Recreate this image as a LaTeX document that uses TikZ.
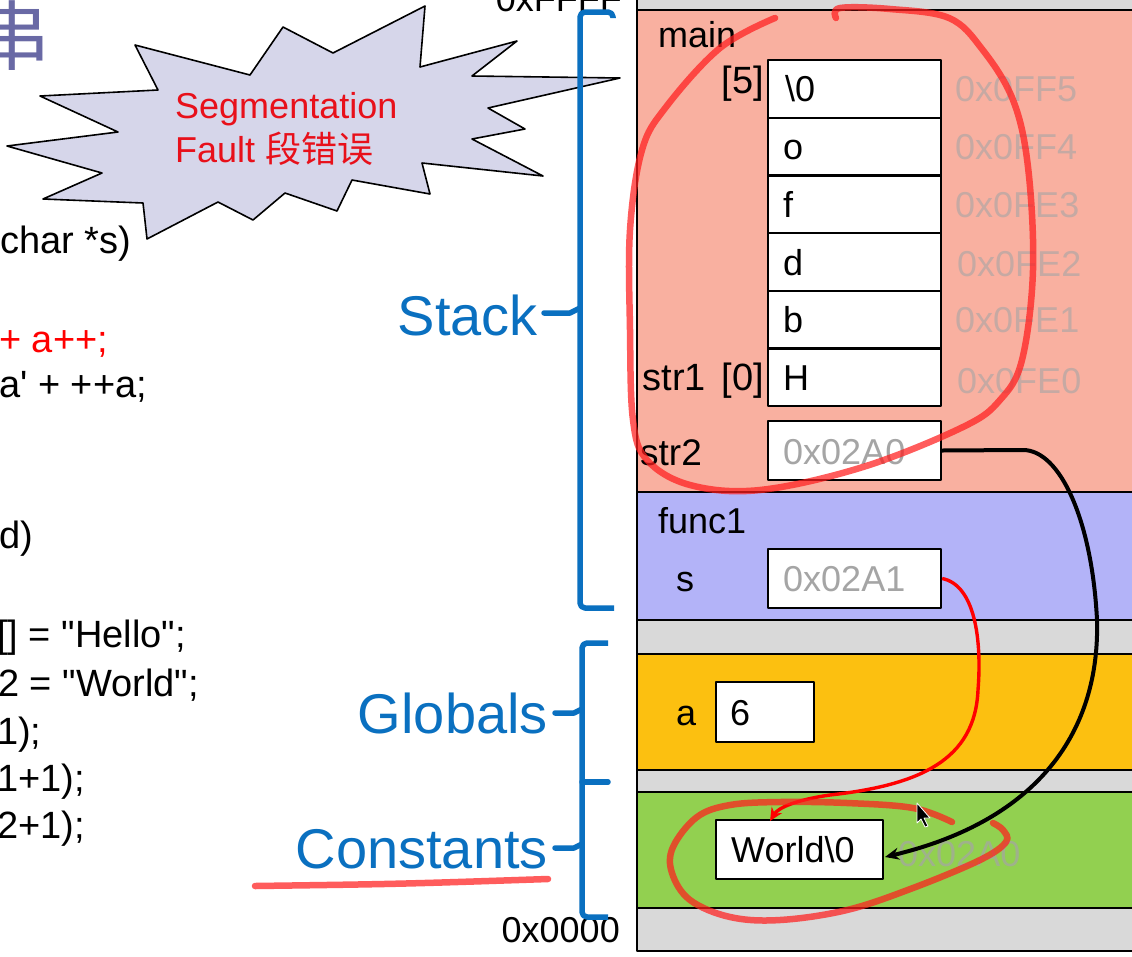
\documentclass[tikz,border=0pt]{standalone}
\usepackage{fontspec}
\setmainfont{Liberation Sans}[Ligatures=TeXOff]
\newfontfamily\cjk{Noto Sans CJK SC}
\usetikzlibrary{arrows.meta}
\definecolor{salmon}{RGB}{249,176,160}
\definecolor{lav}{RGB}{179,179,248}
\definecolor{bandgray}{RGB}{217,217,217}
\definecolor{gold}{RGB}{252,192,16}
\definecolor{grn}{RGB}{146,208,80}
\definecolor{brblue}{RGB}{10,112,192}
\definecolor{burst}{RGB}{214,214,234}
\definecolor{addr}{RGB}{165,165,165}
\definecolor{penred}{RGB}{255,30,30}
\definecolor{titlep}{RGB}{105,105,165}
\definecolor{segred}{RGB}{232,16,26}
\newcommand\memfont{\fontsize{36}{43}\selectfont}
\newcommand\codefnt{\fontsize{38}{46}\selectfont}
\newcommand\lblfnt{\fontsize{56}{66}\selectfont}
\begin{document}
\begin{tikzpicture}[x=1pt,y=-1pt,line join=round,
  txt/.style={inner sep=0pt,font=\memfont},
  code/.style={inner sep=0pt,font=\codefnt,anchor=base west},
  lbl/.style={inner sep=0pt,font=\lblfnt,text=brblue,anchor=base east},
  addrtxt/.style={inner sep=0pt,font=\memfont,text=addr,opacity=0.6,anchor=base west},
  cell/.style={draw=black,line width=2.3pt,fill=white,inner sep=0pt,minimum width=173pt,minimum height=57.7pt},
  band/.style={draw=black,line width=1.8pt},
  brace/.style={draw=brblue,line width=5.5pt,rounded corners=5pt},
  tick/.style={draw=brblue,line width=5.5pt,line cap=round},
  pen/.style={draw=penred,line width=6.5pt,opacity=0.72,line cap=round,line join=round},
  ]
\useasboundingbox (0,0) rectangle (1132,956);
\begin{scope}
\clip (0,0) rectangle (1132,956);
\fill[white] (0,0) rectangle (1132,956);

% title fragment
\node[inner sep=0pt,text=titlep,font=\cjk\fontsize{76}{76}\selectfont,anchor=base] (title) at (13,64) {串};

% code fragments
\node[code] (l1) at (0,253) {char *s)};
\node[code,text=red] (l2) at (-1,352) {+ a++;};
\node[code] (l3) at (-1,397) {a' + ++a;};
\node[code] (l4) at (-1,548) {d)};
\node[code] (l5) at (-3,647) {[] = "Hello";};
\node[code] (l6) at (-2,696) {2 = "World";};
\node[code] (l7) at (-3,744) {1);};
\node[code] (l8) at (-3,791) {1+1);};
\node[code] (l9) at (-3,838) {2+1);};

% starburst
\draw[fill=burst,draw=black,line width=1.6pt]
 (135,45) -- (250,75) -- (283,27) -- (333,53) -- (425,6) -- (420,67) -- (517,41) -- (472,76)
 -- (620,78) -- (488,108) -- (525,129) -- (472,139) -- (543,176) -- (422,163) -- (430,194)
 -- (352,180) -- (337,211) -- (285,193) -- (253,220) -- (218,202) -- (147,239) -- (143,203)
 -- (43,199) -- (102,173) -- (7,146) -- (118,132) -- (40,96) -- (158,90) -- cycle;
\node[txt,text=segred,anchor=base west] (seg1) at (175,118) {Segmentation};
\node[txt,text=segred,anchor=base west] (seg2) at (175,162) {Fault {\cjk 段错误}};

% memory bands
\draw[band,fill=bandgray] (637,-5) rectangle (1140,10);
\draw[band,fill=salmon] (637,10) rectangle (1140,492);
\draw[band,fill=lav] (637,492) rectangle (1140,620);
\draw[band,fill=bandgray] (637,620) rectangle (1140,654);
\draw[band,fill=gold] (637,654) rectangle (1140,770);
\draw[band,fill=bandgray] (637,770) rectangle (1140,792);
\draw[band,fill=grn] (637,792) rectangle (1140,908);
\draw[band,fill=bandgray] (637,908) rectangle (1140,951);

% main frame
\node[txt,anchor=base west] (main) at (658,47) {main};
\node[cell] (c5) at (854.5,88.85) {};
\node[cell] (c4) at (854.5,146.55) {};
\node[cell] (c3) at (854.5,204.25) {};
\node[cell] (c2) at (854.5,261.95) {};
\node[cell] (c1) at (854.5,319.65) {};
\node[cell] (c0) at (854.5,377.35) {};
\node[txt,anchor=base west] (v5) at (785,101.9) {\textbackslash 0};
\node[txt,anchor=base west] (v4) at (783,159.6) {o};
\node[txt,anchor=base west] (v3) at (783,217.3) {f};
\node[txt,anchor=base west] (v2) at (783,275) {d};
\node[txt,anchor=base west] (v1) at (783,332.7) {b};
\node[txt,anchor=base west] (v0) at (783,390.4) {H};
\node[inner sep=0pt,font=\fontsize{38}{44}\selectfont,anchor=base east] (i5) at (764,93) {[5]};
\node[inner sep=0pt,font=\fontsize{38}{44}\selectfont,anchor=base east] (i0) at (764,390.4) {str1\hspace{5pt} [0]};
\node[addrtxt] (a5) at (955,101.9) {0x0FF5};
\node[addrtxt] (a4) at (955,159.6) {0x0FF4};
\node[addrtxt] (a3) at (955,217.3) {0x0FE3};
\node[addrtxt] (a2) at (957,276) {0x0FE2};
\node[addrtxt] (a1) at (955,332.7) {0x0FE1};
\node[addrtxt] (a0) at (957,393) {0x0FE0};
\node[inner sep=0pt,font=\fontsize{37}{44}\selectfont,anchor=base west] (str2) at (640,465) {str2};
\node[cell,minimum height=59pt] (str2box) at (854.5,450.5) {};
\node[txt,text=addr,anchor=base west] (str2val) at (783,464) {0x02A0};

% func1 frame
\node[txt,anchor=base west] (func) at (658,533) {func1};
\node[txt,anchor=base west] (s) at (676,591) {s};
\node[cell,minimum height=59pt] (sbox) at (854.5,578.5) {};
\node[txt,text=addr,anchor=base west] (sval) at (783,591) {0x02A1};

% globals
\node[txt,anchor=base west] (a) at (676,725) {a};
\node[cell,minimum width=98pt,minimum height=60pt] (abox) at (765,712) {};
\node[txt,anchor=base west] (aval) at (730,725) {6};

% constants
\node[cell,minimum width=167pt,minimum height=59pt] (worldbox) at (799.5,849.5) {};
\node[txt,anchor=base west] (wval) at (731,862) {World\textbackslash 0};
\node[inner sep=0pt,font=\memfont,text=addr,opacity=0.7,anchor=base west] (ghost) at (898,866) {0x02A0};

% labels and braces
\node[txt,anchor=base east] (topaddr) at (622,11) {0xFFFF};
\node[txt,anchor=base east] (botaddr) at (620,942) {0x0000};
\node[lbl] (stack) at (538,335) {Stack};
\node[lbl] (globals) at (548,733) {Globals};
\node[lbl] (consts) at (548,868) {Constants};
\draw[brace] (613,18) -- (613,12) -- (580,12) -- (580,608) -- (614,608);
\draw[tick] (544,313) -- (570,313) -- (580,308);
\draw[brace] (608,643) -- (582,643) -- (582,917) -- (608,917);
\draw[tick] (582,782) -- (608,782);
\draw[tick] (555,713) -- (574,713) -- (582,709);
\draw[tick] (555,848) -- (574,848) -- (582,844);

% black pointer str2 -> World
\coordinate (wend) at (885,857);
\draw[line width=4pt,-{Stealth[length=14pt,width=12pt]}] (str2box.east) -- (1023,450)
  .. controls (1060,450) and (1092,520) .. (1097,620)
  .. controls (1100,730) and (1040,820) .. (wend);

% red pointer s -> World
\coordinate (wtop) at (770,821);
\draw[draw=red,line width=3.4pt,-{Stealth[length=13pt,width=12pt]}] (sbox.east)
  .. controls (975,585) and (982,640) .. (978,690)
  .. controls (975,760) and (920,785) .. (830,795)
  .. controls (795,800) and (778,808) .. (wtop);

% hand annotations
\draw[pen] plot[smooth,tension=0.6] coordinates {(775,18) (720,48) (666,107) (642,150) (630,230) (630,330) (633,420) (647,460) (690,485) (760,490) (863,467) (963,427) (1000,400) (1022,360) (1033,270) (1028,167) (1013,100) (982,49) (949,18) (890,9) (840,8) (836,18)};
\draw[pen] plot[smooth,tension=0.6] coordinates {(952,822) (913,808) (847,803) (780,802) (730,805) (697,817) (673,847) (672,873) (690,900) (730,917) (780,920) (847,910) (913,888) (980,860) (1006,842) (1003,830) (993,823)};
\draw[pen] (255,886) .. controls (400,884) .. (548,879);

% mouse cursor
\filldraw[fill=black,draw=white,line width=0.8pt] (917,803) -- (917,823) -- (921,819) -- (925,827) -- (928,826) -- (924,818) -- (930,818) -- cycle;
\end{scope}
\end{tikzpicture}
\end{document}
